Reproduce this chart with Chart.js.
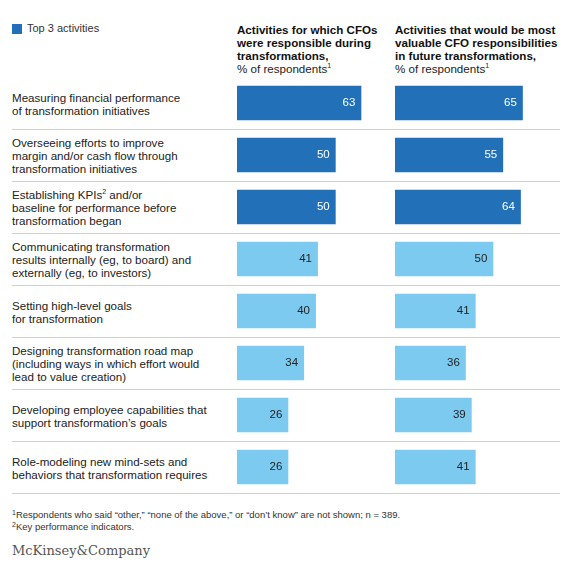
<!DOCTYPE html>
<html><head><meta charset="utf-8">
<script src="https://cdn.jsdelivr.net/npm/chart.js@4"></script>
<style>
body{margin:0;width:584px;height:578px;background:#fff;font-family:"Liberation Sans",Arial,sans-serif;color:#222;position:relative;overflow:hidden}
.abs{position:absolute}
.row{position:absolute;left:12px;width:548px;height:51px;border-bottom:1px solid #d0d0d0;font-size:11.6px;line-height:13px;display:flex;align-items:center}
.hdr{font-size:11.6px;line-height:13px}
.hdr b{font-weight:bold;color:#111}
sup{font-size:7px;vertical-align:top;line-height:8px}
</style></head><body>
<div class="abs" style="left:12px;top:24px;width:10px;height:10px;background:#2271b8"></div>
<div class="abs" style="left:27px;top:22px;font-size:11px;color:#333">Top 3 activities</div>
<div class="abs hdr" style="left:237px;top:23px;width:150px"><b>Activities for which CFOs were responsible during transformations,</b><br>% of respondents<sup>1</sup></div>
<div class="abs hdr" style="left:395px;top:23px;width:175px"><b>Activities that would be most valuable CFO responsibilities in future transformations,</b><br>% of respondents<sup>1</sup></div>
<div id="rows"></div>
<div class="abs" style="left:237px;top:77px;width:150px;height:416px"><canvas id="c1"></canvas></div>
<div class="abs" style="left:395px;top:77px;width:177px;height:416px"><canvas id="c2"></canvas></div>
<div class="abs" style="left:12px;top:509px;font-size:9.5px;line-height:12px;color:#333"><sup>1</sup>Respondents who said “other,” “none of the above,” or “don’t know” are not shown; n = 389.<br><sup>2</sup>Key performance indicators.</div>
<div class="abs" style="left:12px;top:543px;font-family:'DejaVu Serif','Liberation Serif',serif;font-size:13px;color:#555">McKinsey&amp;Company</div>
<script>
const categories=[
"Measuring financial performance<br>of transformation initiatives",
"Overseeing efforts to improve<br>margin and/or cash flow through<br>transformation initiatives",
"Establishing KPIs<sup>2</sup> and/or<br>baseline for performance before<br>transformation began",
"Communicating transformation<br>results internally (eg, to board) and<br>externally (eg, to investors)",
"Setting high-level goals<br>for transformation",
"Designing transformation road map<br>(including ways in which effort would<br>lead to value creation)",
"Developing employee capabilities that<br>support transformation’s goals",
"Role-modeling new mind-sets and<br>behaviors that transformation requires"];
const responsible=[63,50,50,41,40,34,26,26];
const future=[65,55,64,50,41,36,39,41];
const top3=[true,true,true,false,false,false,false,false];
const rows=document.getElementById('rows');
categories.forEach((c,i)=>{const d=document.createElement('div');d.className='row';d.style.top=(78+52*i)+'px';d.innerHTML='<span>'+c+'</span>';rows.appendChild(d);});
const dark='#2271b8',light='#7dcaf0';
const labelPlugin={id:'vl',afterDatasetsDraw(ch){const ctx=ch.ctx;const m=ch.getDatasetMeta(0);ctx.save();ctx.font='11.5px "Liberation Sans",Arial';ctx.textAlign='right';ctx.textBaseline='middle';
m.data.forEach((b,i)=>{ctx.fillStyle=top3[i]?'#fff':'#222';ctx.fillText(ch.data.datasets[0].data[i],b.x-6,b.y);});ctx.restore();}};
function mk(id,data,max){new Chart(document.getElementById(id),{type:'bar',data:{labels:categories,datasets:[{data,backgroundColor:top3.map(t=>t?dark:light),barPercentage:0.66,categoryPercentage:1}]},
options:{indexAxis:'y',responsive:true,maintainAspectRatio:false,animation:false,layout:{padding:0},
plugins:{legend:{display:false},tooltip:{enabled:false}},
scales:{x:{display:false,min:0,max},y:{display:false}}},plugins:[labelPlugin]});}
mk('c1',responsible,76);
mk('c2',future,90);
</script></body></html>
